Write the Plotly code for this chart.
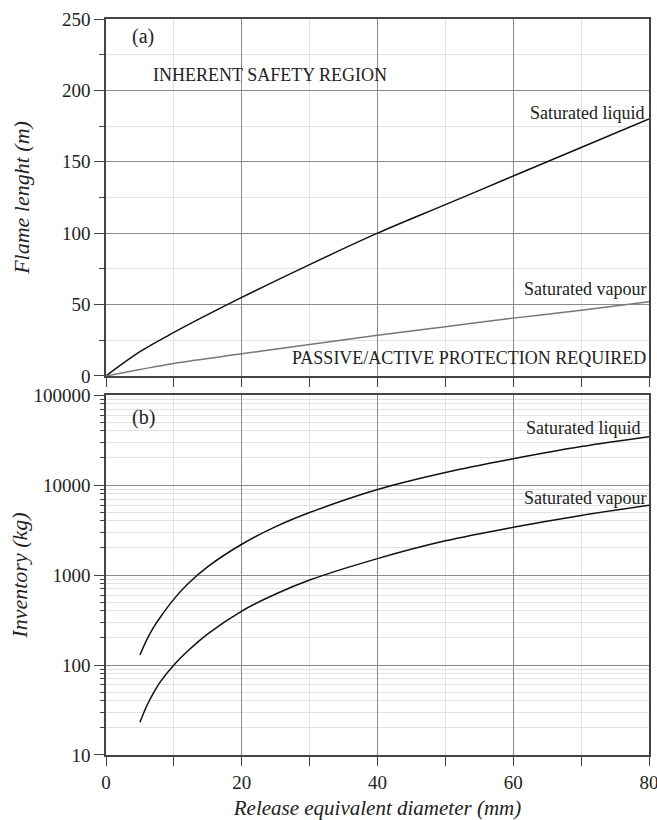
import plotly.graph_objects as go

# ---- data ----
diam_a = [0, 5, 10, 20, 30, 40, 50, 60, 70, 80]
flame_liquid = [0, 17, 30.5, 55, 78, 100, 120, 140, 160, 180]
flame_vapour = [0, 4.5, 8.8, 15.5, 22, 28.5, 34.5, 40.5, 46, 52]

diam_b = [5, 6, 7, 8, 10, 12, 15, 20, 25, 30, 40, 50, 60, 70, 80]
inv_liquid = [129, 190, 262, 340, 540, 790, 1240, 2200, 3450, 4950, 8930, 13800, 19600, 26800, 34500]
inv_vapour = [23.1, 35, 49, 65, 100, 142, 222, 398, 615, 880, 1523, 2400, 3400, 4600, 5970]

x_ticks = [0, 20, 40, 60, 80]
y_ticks_a = [0, 50, 100, 150, 200, 250]
y_ticks_b = [10, 100, 1000, 10000, 100000]

FONT = "Liberation Serif"
MAJ = "#8a8a8a"
MIN = "#e2e2e2"
AX = "#444444"
TXT = "#222222"

fig = go.Figure()
fig.add_trace(go.Scatter(x=diam_a, y=flame_liquid, mode="lines", line=dict(color="#111111", width=1.5, shape="spline"), xaxis="x", yaxis="y"))
fig.add_trace(go.Scatter(x=diam_a, y=flame_vapour, mode="lines", line=dict(color="#777777", width=1.5, shape="spline"), xaxis="x", yaxis="y"))
fig.add_trace(go.Scatter(x=diam_b, y=inv_liquid, mode="lines", line=dict(color="#111111", width=1.5, shape="spline"), xaxis="x2", yaxis="y2"))
fig.add_trace(go.Scatter(x=diam_b, y=inv_vapour, mode="lines", line=dict(color="#111111", width=1.5, shape="spline"), xaxis="x2", yaxis="y2"))

common_x = dict(range=[0, 80], tickvals=x_ticks, showgrid=True, gridcolor=MAJ, gridwidth=1,
                showline=True, linecolor=AX, linewidth=1.5, mirror=True, zeroline=False,
                ticks="outside", ticklen=9, tickcolor=AX, automargin=False, ticklabeloverflow="allow",
                minor=dict(tickvals=[10, 30, 50, 70], ticks="outside", ticklen=9, tickcolor=AX, showgrid=True, gridcolor=MIN),
                tickfont=dict(family=FONT, size=19, color=TXT))

fig.update_layout(
    width=657, height=820,
    margin=dict(l=106, r=8, t=19, b=65),
    paper_bgcolor="white", plot_bgcolor="white",
    showlegend=False,
    xaxis=dict(**common_x, anchor="y", showticklabels=False, domain=[0, 1]),
    yaxis=dict(range=[0, 250], tickvals=y_ticks_a, domain=[0.515, 1], anchor="x", automargin=False,
               showgrid=True, gridcolor=MAJ, showline=True, linecolor=AX, linewidth=1.5, mirror=True,
               zeroline=False, ticks="outside", ticklen=10, tickcolor=AX, ticklabeloverflow="allow",
               minor=dict(tickvals=[25, 75, 125, 175, 225], ticks="outside", ticklen=5, tickcolor=AX, showgrid=True, gridcolor=MIN),
               tickfont=dict(family=FONT, size=19, color=TXT),
               title=dict(text="<i>Flame lenght (m)</i>", font=dict(family=FONT, size=22, color=TXT), standoff=26)),
    xaxis2=dict(**common_x, anchor="y2", domain=[0, 1],
                title=dict(text="<i>Release equivalent diameter (mm)</i>", font=dict(family=FONT, size=21, color=TXT), standoff=16)),
    yaxis2=dict(type="log", range=[1, 5], tickvals=y_ticks_b, ticktext=[str(v) for v in y_ticks_b],
                domain=[0, 0.489], anchor="x2", automargin=False, ticklabeloverflow="allow",
                showgrid=True, gridcolor=MAJ, showline=True, linecolor=AX, linewidth=1.5, mirror=True,
                zeroline=False, ticks="outside", ticklen=10, tickcolor=AX,
                minor=dict(dtick="D1", ticks="outside", ticklen=4, tickcolor=AX, showgrid=True, gridcolor=MIN),
                tickfont=dict(family=FONT, size=19, color=TXT),
                title=dict(text="<i>Inventory (kg)</i>", font=dict(family=FONT, size=22, color=TXT), standoff=0)),
)

ann_font = dict(family=FONT, size=18, color=TXT)
anns = [
    dict(x=3.5, y=238, xref="x", yref="y", text="(a)", xanchor="left", yanchor="middle", font=dict(family=FONT, size=20, color=TXT)),
    dict(x=6.7, y=210.5, xref="x", yref="y", text="INHERENT SAFETY REGION", xanchor="left", yanchor="middle", font=ann_font),
    dict(x=79.5, y=184.5, xref="x", yref="y", text="Saturated liquid", xanchor="right", yanchor="middle", font=ann_font),
    dict(x=79.8, y=61, xref="x", yref="y", text="Saturated vapour", xanchor="right", yanchor="middle", font=ann_font),
    dict(x=79.8, y=12.5, xref="x", yref="y", text="PASSIVE/ACTIVE PROTECTION REQUIRED", xanchor="right", yanchor="middle", font=ann_font),
    dict(x=3.5, y=4.75, xref="x2", yref="y2", text="(b)", xanchor="left", yanchor="middle", font=dict(family=FONT, size=20, color=TXT)),
    dict(x=79.0, y=4.63, xref="x2", yref="y2", text="Saturated liquid", xanchor="right", yanchor="middle", font=ann_font),
    dict(x=79.8, y=3.86, xref="x2", yref="y2", text="Saturated vapour", xanchor="right", yanchor="middle", font=ann_font),
]
for a in anns:
    fig.add_annotation(showarrow=False, **a)

fig.write_html("out.html")
